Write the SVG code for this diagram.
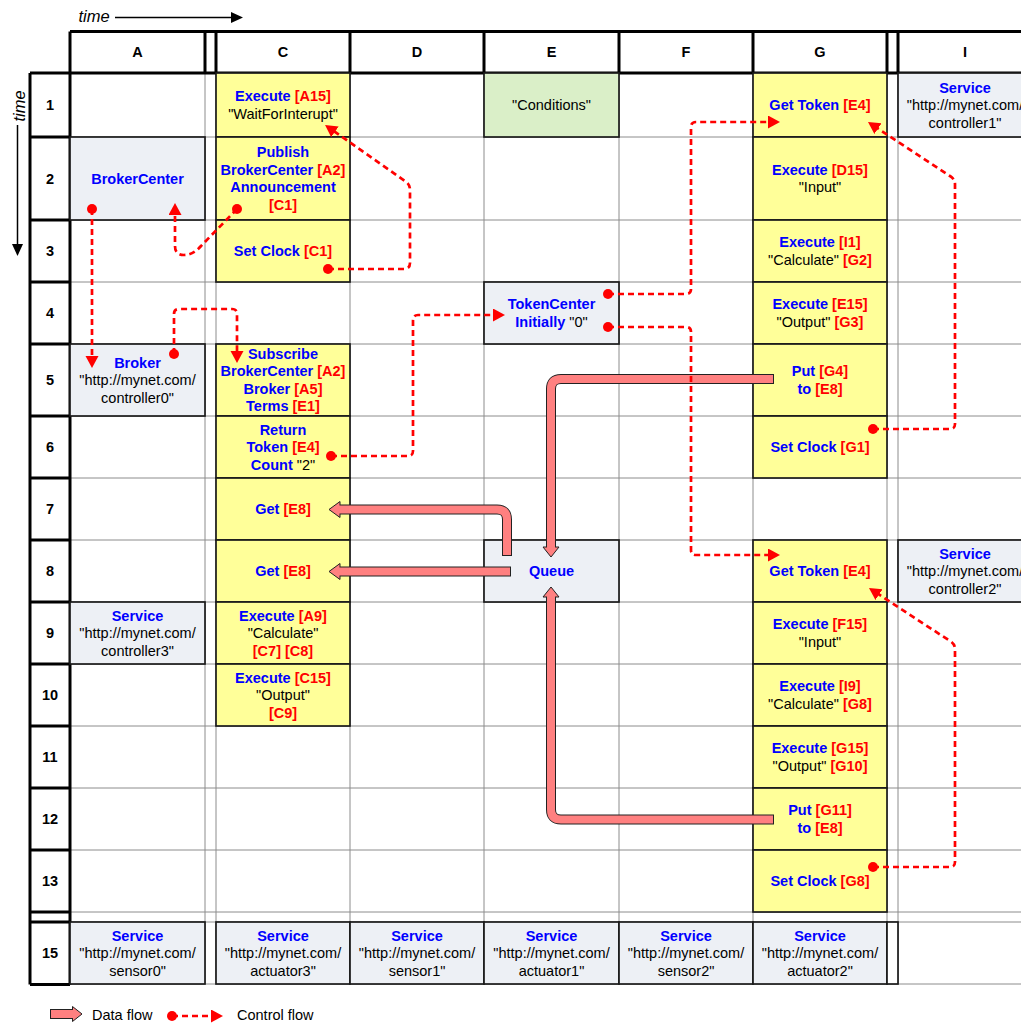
<svg xmlns="http://www.w3.org/2000/svg" width="1021" height="1023" viewBox="0 0 1021 1023">
  <style>
    text { font-family: "Liberation Sans", Arial, sans-serif; font-size: 14.5px; text-anchor: middle; fill: #000; }
    .hd { font-weight: bold; }
    .b { font-weight: bold; fill: #0000ff; }
    .r { font-weight: bold; fill: #ff0000; }
    .lg { text-anchor: start; }
    .axis { font-style: italic; font-size: 16.5px; }
    .grid { stroke: #8c8c8c; stroke-width: 1; fill: none; }
    .thick { stroke: #000; stroke-width: 3; fill: none; }
    .yel { fill: #ffff99; stroke: #1a1a1a; stroke-width: 1.7; }
    .svc { fill: #edf0f5; stroke: #1a1a1a; stroke-width: 1.7; }
    .grn { fill: #daefc8; stroke: #1a1a1a; stroke-width: 1.7; }
    .blank { fill: #fff; stroke: #1a1a1a; stroke-width: 1.7; }
    .ctl path { fill: none; stroke: #ff0000; stroke-width: 2.7; stroke-dasharray: 6 4; marker-start: url(#dot); marker-end: url(#head); }
    .dout { fill: none; stroke: #222; stroke-width: 10; }
    .din { fill: none; stroke: #ff8080; stroke-width: 8; }
    .dhead { fill: #ff8080; stroke: #222; stroke-width: 1; }
  </style>
  <defs>
    <marker id="dot" markerUnits="userSpaceOnUse" markerWidth="12" markerHeight="12" refX="6" refY="6">
      <circle cx="6" cy="6" r="5" fill="#ff0000"/>
    </marker>
    <marker id="head" markerUnits="userSpaceOnUse" markerWidth="13" markerHeight="14" refX="6" refY="6.5" orient="auto">
      <path d="M0,0 L12,6.5 L0,13 z" fill="#ff0000"/>
    </marker>
  </defs>

  <rect width="1021" height="1023" fill="#fff"/>

  <!-- time axes -->
  <g id="axes">
    <text class="axis" x="94" y="22">time</text>
    <line x1="115" y1="17.5" x2="233" y2="17.5" stroke="#000" stroke-width="1.5"/>
    <path d="M231,12 L243,17.5 L231,23 z" fill="#000"/>
    <text class="axis" transform="translate(25,106) rotate(-90)">time</text>
    <line x1="17.5" y1="125" x2="17.5" y2="246" stroke="#000" stroke-width="1.5"/>
    <path d="M12,244 L17.5,256 L23,244 z" fill="#000"/>
  </g>

  <!-- sheet grid -->
  <g id="grid">
    <path class="grid" d="M70,137H1021 M70,220H1021 M70,282H1021 M70,344H1021 M70,416H1021 M70,478H1021 M70,540H1021 M70,602H1021 M70,664H1021 M70,726H1021 M70,788H1021 M70,850H1021 M70,912H1021 M70,922H1021 M70,984H1021"/>
    <path class="grid" d="M205,73V984 M216,73V984 M350,73V984 M484,73V984 M619,73V984 M753,73V984 M887,73V984 M898,73V984"/>
    <!-- column headers -->
    <path class="thick" d="M70,31.5H1021 M30,73H1021 M70,31.5V73 M205,31.5V73 M216,31.5V73 M350,31.5V73 M484,31.5V73 M619,31.5V73 M753,31.5V73 M887,31.5V73 M898,31.5V73"/>
    <!-- row headers -->
    <path class="thick" d="M30,73V984.5 M70,73V984.5 M30,137H70 M30,220H70 M30,282H70 M30,344H70 M30,416H70 M30,478H70 M30,540H70 M30,602H70 M30,664H70 M30,726H70 M30,788H70 M30,850H70 M30,912H70 M30,922H70 M30,984.5H70"/>
    <g class="hd">
      <text x="137.5" y="57">A</text>
      <text x="283" y="57">C</text>
      <text x="417" y="57">D</text>
      <text x="551.5" y="57">E</text>
      <text x="686" y="57">F</text>
      <text x="820" y="57">G</text>
      <text x="965" y="57">I</text>
      <text x="50" y="110">1</text>
      <text x="50" y="183.5">2</text>
      <text x="50" y="256">3</text>
      <text x="50" y="318">4</text>
      <text x="50" y="385">5</text>
      <text x="50" y="452">6</text>
      <text x="50" y="514">7</text>
      <text x="50" y="576">8</text>
      <text x="50" y="638">9</text>
      <text x="50" y="700">10</text>
      <text x="50" y="762">11</text>
      <text x="50" y="824">12</text>
      <text x="50" y="886">13</text>
      <text x="50" y="958">15</text>
    </g>
  </g>

  <!-- column C -->
  <g id="C1"><rect class="yel" x="216" y="73" width="134" height="64"/>
    <text x="283" y="101.25"><tspan class="b">Execute </tspan><tspan class="r">[A15]</tspan></text>
    <text x="283" y="118.75">"WaitForInterupt"</text></g>
  <g id="C2"><rect class="yel" x="216" y="137" width="134" height="83"/>
    <text x="283" y="157.25" class="b">Publish</text>
    <text x="283" y="174.75"><tspan class="b">BrokerCenter </tspan><tspan class="r">[A2]</tspan></text>
    <text x="283" y="192.25" class="b">Announcement</text>
    <text x="283" y="209.75" class="r">[C1]</text></g>
  <g id="C3"><rect class="yel" x="216" y="220" width="134" height="62"/>
    <text x="283" y="256"><tspan class="b">Set Clock </tspan><tspan class="r">[C1]</tspan></text></g>
  <g id="C5"><rect class="yel" x="216" y="344" width="134" height="72"/>
    <text x="283" y="358.75" class="b">Subscribe</text>
    <text x="283" y="376.25"><tspan class="b">BrokerCenter </tspan><tspan class="r">[A2]</tspan></text>
    <text x="283" y="393.75"><tspan class="b">Broker </tspan><tspan class="r">[A5]</tspan></text>
    <text x="283" y="411.25"><tspan class="b">Terms </tspan><tspan class="r">[E1]</tspan></text></g>
  <g id="C6"><rect class="yel" x="216" y="416" width="134" height="62"/>
    <text x="283" y="434.5" class="b">Return</text>
    <text x="283" y="452"><tspan class="b">Token </tspan><tspan class="r">[E4]</tspan></text>
    <text x="283" y="469.5"><tspan class="b">Count </tspan>"2"</text></g>
  <g id="C7"><rect class="yel" x="216" y="478" width="134" height="62"/>
    <text x="283" y="514"><tspan class="b">Get </tspan><tspan class="r">[E8]</tspan></text></g>
  <g id="C8"><rect class="yel" x="216" y="540" width="134" height="62"/>
    <text x="283" y="576"><tspan class="b">Get </tspan><tspan class="r">[E8]</tspan></text></g>
  <g id="C9"><rect class="yel" x="216" y="602" width="134" height="62"/>
    <text x="283" y="620.5"><tspan class="b">Execute </tspan><tspan class="r">[A9]</tspan></text>
    <text x="283" y="638">"Calculate"</text>
    <text x="283" y="655.5" class="r">[C7] [C8]</text></g>
  <g id="C10"><rect class="yel" x="216" y="664" width="134" height="62"/>
    <text x="283" y="682.5"><tspan class="b">Execute </tspan><tspan class="r">[C15]</tspan></text>
    <text x="283" y="700">"Output"</text>
    <text x="283" y="717.5" class="r">[C9]</text></g>

  <!-- column A -->
  <g id="A2"><rect class="svc" x="70" y="137" width="135" height="83"/>
    <text x="137.5" y="183.5" class="b">BrokerCenter</text></g>
  <g id="A5"><rect class="svc" x="70" y="344" width="135" height="72"/>
    <text x="137.5" y="367.5" class="b">Broker</text>
    <text x="137.5" y="385">"http://mynet.com/</text>
    <text x="137.5" y="402.5">controller0"</text></g>
  <g id="A9"><rect class="svc" x="70" y="602" width="135" height="62"/>
    <text x="137.5" y="620.5" class="b">Service</text>
    <text x="137.5" y="638">"http://mynet.com/</text>
    <text x="137.5" y="655.5">controller3"</text></g>

  <!-- column E -->
  <g id="E1"><rect class="grn" x="484" y="73" width="135" height="64"/>
    <text x="551.5" y="110">"Conditions"</text></g>
  <g id="E4"><rect class="svc" x="484" y="282" width="135" height="62"/>
    <text x="551.5" y="309.25" class="b">TokenCenter</text>
    <text x="551.5" y="326.75"><tspan class="b">Initially </tspan>"0"</text></g>
  <g id="E8"><rect class="svc" x="484" y="540" width="135" height="62"/>
    <text x="551.5" y="576" class="b">Queue</text></g>

  <!-- column G -->
  <g id="G1"><rect class="yel" x="753" y="73" width="134" height="64"/>
    <text x="820" y="110"><tspan class="b">Get Token </tspan><tspan class="r">[E4]</tspan></text></g>
  <g id="G2"><rect class="yel" x="753" y="137" width="134" height="83"/>
    <text x="820" y="174.75"><tspan class="b">Execute </tspan><tspan class="r">[D15]</tspan></text>
    <text x="820" y="192.25">"Input"</text></g>
  <g id="G3"><rect class="yel" x="753" y="220" width="134" height="62"/>
    <text x="820" y="247.25"><tspan class="b">Execute </tspan><tspan class="r">[I1]</tspan></text>
    <text x="820" y="264.75">"Calculate" <tspan class="r">[G2]</tspan></text></g>
  <g id="G4"><rect class="yel" x="753" y="282" width="134" height="62"/>
    <text x="820" y="309.25"><tspan class="b">Execute </tspan><tspan class="r">[E15]</tspan></text>
    <text x="820" y="326.75">"Output" <tspan class="r">[G3]</tspan></text></g>
  <g id="G5"><rect class="yel" x="753" y="344" width="134" height="72"/>
    <text x="820" y="376.25"><tspan class="b">Put </tspan><tspan class="r">[G4]</tspan></text>
    <text x="820" y="393.75"><tspan class="b">to </tspan><tspan class="r">[E8]</tspan></text></g>
  <g id="G6"><rect class="yel" x="753" y="416" width="134" height="62"/>
    <text x="820" y="452"><tspan class="b">Set Clock </tspan><tspan class="r">[G1]</tspan></text></g>
  <g id="G8"><rect class="yel" x="753" y="540" width="134" height="62"/>
    <text x="820" y="576"><tspan class="b">Get Token </tspan><tspan class="r">[E4]</tspan></text></g>
  <g id="G9"><rect class="yel" x="753" y="602" width="134" height="62"/>
    <text x="820" y="629.25"><tspan class="b">Execute </tspan><tspan class="r">[F15]</tspan></text>
    <text x="820" y="646.75">"Input"</text></g>
  <g id="G10"><rect class="yel" x="753" y="664" width="134" height="62"/>
    <text x="820" y="691.25"><tspan class="b">Execute </tspan><tspan class="r">[I9]</tspan></text>
    <text x="820" y="708.75">"Calculate" <tspan class="r">[G8]</tspan></text></g>
  <g id="G11"><rect class="yel" x="753" y="726" width="134" height="62"/>
    <text x="820" y="753.25"><tspan class="b">Execute </tspan><tspan class="r">[G15]</tspan></text>
    <text x="820" y="770.75">"Output" <tspan class="r">[G10]</tspan></text></g>
  <g id="G12"><rect class="yel" x="753" y="788" width="134" height="62"/>
    <text x="820" y="815.25"><tspan class="b">Put </tspan><tspan class="r">[G11]</tspan></text>
    <text x="820" y="832.75"><tspan class="b">to </tspan><tspan class="r">[E8]</tspan></text></g>
  <g id="G13"><rect class="yel" x="753" y="850" width="134" height="62"/>
    <text x="820" y="886"><tspan class="b">Set Clock </tspan><tspan class="r">[G8]</tspan></text></g>

  <!-- column I -->
  <g id="I1"><rect class="svc" x="898" y="73" width="134" height="64"/>
    <text x="965" y="92.5" class="b">Service</text>
    <text x="965" y="110">"http://mynet.com/</text>
    <text x="965" y="127.5">controller1"</text></g>
  <g id="I8"><rect class="svc" x="898" y="540" width="134" height="62"/>
    <text x="965" y="558.5" class="b">Service</text>
    <text x="965" y="576">"http://mynet.com/</text>
    <text x="965" y="593.5">controller2"</text></g>

  <!-- row 15 services -->
  <g id="A15"><rect class="svc" x="70" y="922" width="135" height="62"/>
    <text x="137.5" y="940.5" class="b">Service</text>
    <text x="137.5" y="958">"http://mynet.com/</text>
    <text x="137.5" y="975.5">sensor0"</text></g>
  <g id="C15"><rect class="svc" x="216" y="922" width="134" height="62"/>
    <text x="283" y="940.5" class="b">Service</text>
    <text x="283" y="958">"http://mynet.com/</text>
    <text x="283" y="975.5">actuator3"</text></g>
  <g id="D15"><rect class="svc" x="350" y="922" width="134" height="62"/>
    <text x="417" y="940.5" class="b">Service</text>
    <text x="417" y="958">"http://mynet.com/</text>
    <text x="417" y="975.5">sensor1"</text></g>
  <g id="E15"><rect class="svc" x="484" y="922" width="135" height="62"/>
    <text x="551.5" y="940.5" class="b">Service</text>
    <text x="551.5" y="958">"http://mynet.com/</text>
    <text x="551.5" y="975.5">actuator1"</text></g>
  <g id="F15"><rect class="svc" x="619" y="922" width="134" height="62"/>
    <text x="686" y="940.5" class="b">Service</text>
    <text x="686" y="958">"http://mynet.com/</text>
    <text x="686" y="975.5">sensor2"</text></g>
  <g id="G15"><rect class="svc" x="753" y="922" width="134" height="62"/>
    <text x="820" y="940.5" class="b">Service</text>
    <text x="820" y="958">"http://mynet.com/</text>
    <text x="820" y="975.5">actuator2"</text></g>
  <g id="H15"><rect class="blank" x="887" y="922" width="11" height="62"/></g>

  <!-- connectors -->
  <g id="connectors">
    <!-- data flow -->
    <g id="data-flow">
      <path class="dout" d="M774,379 H561 Q551,379 551,389 V547"/>
      <path class="dhead" d="M543,547 L559,547 L551,557 z"/>
      <path class="din" d="M773,379 H561 Q551,379 551,389 V548"/>

      <path class="dout" d="M507,556 V519.5 Q507,509.5 497,509.5 H340"/>
      <path class="dhead" d="M340,501.5 L340,517.5 L329,509.5 z"/>
      <path class="din" d="M507,555 V519.5 Q507,509.5 497,509.5 H339"/>

      <path class="dout" d="M511,571.5 H340"/>
      <path class="dhead" d="M340,563.5 L340,579.5 L329,571.5 z"/>
      <path class="din" d="M510,571.5 H339"/>

      <path class="dout" d="M774,819.5 H561 Q551,819.5 551,809.5 V597"/>
      <path class="dhead" d="M543,597 L559,597 L551,587 z"/>
      <path class="din" d="M773,819.5 H561 Q551,819.5 551,809.5 V596"/>
    </g>
    <!-- control flow -->
    <g id="control-flow" class="ctl">
      <path d="M328,269 H404 Q410,269 410,263 V190 Q410,184 405,181 L330,128.4"/>
      <path d="M237,209 L201,246 Q193,255 184,255 Q175,255 175,246 V209"/>
      <path d="M92,209 V362"/>
      <path d="M174,354 V314 Q174,309 179,309 H232 Q237,309 237,314 V357"/>
      <path d="M331,456 H408 Q413,456 413,451 V320 Q413,315 418,315 H499"/>
      <path d="M608,294 H686 Q691,294 691,289 V127 Q691,122 696,122 H774"/>
      <path d="M608,327 H686 Q691,327 691,332 V550 Q691,555 696,555 H774"/>
      <path d="M873,429 H950 Q955,429 955,424 V184 Q955,179 950,176 L873,125.3"/>
      <path d="M873,867 H950 Q955,867 955,862 V649 Q955,644 950,641 L874,591.3"/>
    </g>
  </g>

  <!-- legend -->
  <g id="legend">
    <path class="dout" d="M50,1014 H73"/>
    <path class="dhead" d="M72.5,1006.5 L72.5,1021.5 L82,1014 z"/>
    <path class="din" d="M51,1014 H73"/>
    <text class="lg" x="92" y="1020">Data flow</text>
    <g class="ctl"><path d="M172,1016 H217"/></g>
    <text class="lg" x="237" y="1020">Control flow</text>
  </g>
</svg>
